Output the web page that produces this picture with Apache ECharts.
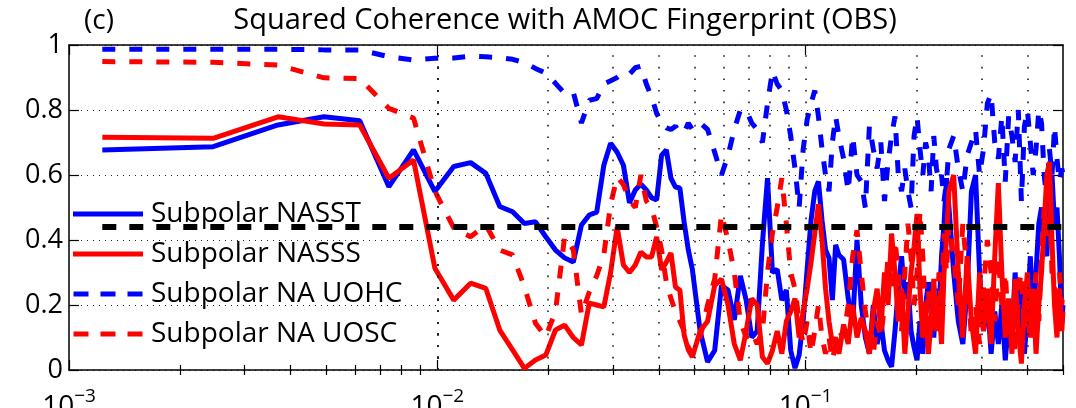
<!DOCTYPE html>
<html>
<head>
<meta charset="utf-8">
<script src="https://cdn.jsdelivr.net/npm/echarts@6/dist/echarts.min.js"></script>
<style>
html,body{margin:0;padding:0;background:#fff;}
#chart{width:1076px;height:408px;}
</style>
</head>
<body>
<div id="chart"></div>
<script>
// Harmonic indices of the spectral estimates (frequency = k * baseFreq, cycles per year)
const baseFreq = 0.5 / 406;
const harmonics = [
 1,2,3,4,5,6,7,8,9,10,11,12,13,14,15,16,17,18,19,20,
 21,22,23,24,25,26,27,28,29,30,31,32,33,34,35,36,37,38,39,40,
 42,44,46,48,50,52,54,56,58,60,62,64,66,68,70,72,74,76,78,80,
 82,84,86,88,90,92,94,96,98,100,
 103,106,109,112,115,118,121,124,127,130,133,136,139,142,145,148,151,154,157,160,
 163,166,169,172,175,178,181,184,187,190,193,196,199,
 205,211,217,223,229,235,241,247,253,259,265,271,277,283,289,295,301,307,313,319,
 325,331,337,343,349,355,361,367,373,379,385,391,397,403,406
];

const nasst = [
 0.677,0.687,0.754,0.779,0.767,0.564,0.677,0.549,0.626,0.638,
 0.605,0.503,0.487,0.451,0.456,0.41,0.369,0.345,0.332,0.446,
 0.477,0.486,0.63,0.698,0.67,0.63,0.514,0.554,0.572,0.554,
 0.53,0.523,0.66,0.677,0.59,0.563,0.56,0.455,0.37,0.31,
 0.12,0.025,0.06,0.26,0.246,0.154,0.29,0.215,0.1,0.12,
 0.39,0.59,0.3,0.31,0.215,0.246,0.06,0.006,0.046,0.154,
 0.31,0.46,0.55,0.58,0.46,0.37,0.345,0.215,0.385,0.354,
 0.34,0.22,0.14,0.4,0.2,0.1,0.05,0.2,0.08,0.15,
 0.06,0.03,0.01,0.12,0.25,0.35,0.22,0.27,0.12,0.07,
 0.03,0.15,0.05,0.2,0.27,0.22,0.1,0.25,0.18,0.35,
 0.45,0.59,0.5,
 0.3,0.15,0.08,0.25,0.55,0.6,0.3,0.12,0.22,0.05,
 0.18,0.08,0.2,0.03,0.15,0.1,0.3,0.12,0.25,0.05,
 0.18,0.35,0.15,0.3,0.45,0.5,0.4,0.35,0.55,0.6,
 0.45,0.5,0.35,0.15,0.2
];

const nasss = [
 0.716,0.713,0.779,0.757,0.754,0.59,0.646,0.313,0.215,0.267,
 0.251,0.123,0.062,0.005,0.031,0.046,0.123,0.138,0.1,0.077,
 0.206,0.2,0.194,0.3,0.44,0.323,0.3,0.323,0.363,0.348,
 0.348,0.41,0.308,0.332,0.36,0.255,0.246,0.108,0.062,0.04,
 0.12,0.15,0.26,0.28,0.2,0.08,0.03,0.12,0.22,0.2,
 0.04,0.02,0.06,0.12,0.05,0.15,0.18,0.22,0.1,0.18,
 0.25,0.33,0.42,0.51,0.4,0.25,0.15,0.08,0.1,0.05,
 0.14,0.08,0.2,0.1,0.16,0.12,0.05,0.18,0.25,0.12,
 0.3,0.2,0.42,0.3,0.15,0.25,0.05,0.18,0.3,0.38,
 0.48,0.25,0.1,0.2,0.05,0.15,0.28,0.12,0.2,0.08,
 0.3,0.4,0.55,
 0.6,0.3,0.1,0.35,0.15,0.05,0.3,0.12,0.25,0.08,
 0.35,0.575,0.3,0.1,0.22,0.05,0.28,0.12,0.02,0.2,
 0.3,0.1,0.25,0.05,0.2,0.3,0.45,0.6,0.64,0.4,
 0.2,0.1,0.25,0.12,0.18
];

const uohc = [
 0.987,0.987,0.987,0.985,0.985,0.964,0.954,0.959,0.96,0.966,
 0.964,0.961,0.956,0.946,0.928,0.913,0.882,0.851,0.855,0.76,
 0.83,0.835,0.88,0.89,0.9,0.915,0.91,0.93,0.935,0.88,
 0.84,0.79,0.76,0.745,0.74,0.75,0.73,0.73,0.76,0.74,
 0.76,0.74,0.67,0.6,0.66,0.74,0.8,0.8,0.76,0.74,
 0.7,0.82,0.92,0.88,0.86,0.8,0.72,0.62,0.5,0.68,
 0.77,0.82,0.86,0.78,0.68,0.6,0.55,0.7,0.78,0.72,
 0.65,0.55,0.72,0.6,0.58,0.5,0.75,0.68,0.62,0.7,
 0.52,0.64,0.72,0.78,0.6,0.55,0.62,0.55,0.5,0.72,
 0.78,0.68,0.6,0.7,0.66,0.55,0.72,0.62,0.58,0.6,
 0.52,0.58,0.68,
 0.72,0.62,0.55,0.66,0.7,0.74,0.6,0.68,0.82,0.85,
 0.7,0.65,0.78,0.58,0.78,0.72,0.64,0.8,0.52,0.75,
 0.8,0.7,0.6,0.68,0.8,0.76,0.6,0.52,0.68,0.6,
 0.75,0.65,0.58,0.62,0.6
];

const uosc = [
 0.949,0.947,0.938,0.899,0.897,0.805,0.775,0.55,0.437,0.41,
 0.446,0.369,0.354,0.256,0.144,0.102,0.18,0.41,0.37,0.17,
 0.24,0.29,0.354,0.51,0.594,0.57,0.523,0.5,0.6,0.52,
 0.5,0.44,0.37,0.27,0.22,0.18,0.15,0.12,0.07,0.05,
 0.1,0.2,0.28,0.48,0.4,0.3,0.15,0.1,0.12,0.08,
 0.12,0.3,0.42,0.5,0.59,0.45,0.3,0.25,0.15,0.08,
 0.15,0.05,0.12,0.2,0.1,0.05,0.1,0.03,0.08,0.12,
 0.1,0.2,0.35,0.43,0.3,0.18,0.1,0.05,0.15,0.1,
 0.2,0.35,0.25,0.4,0.3,0.12,0.3,0.45,0.35,0.2,
 0.3,0.49,0.35,0.15,0.25,0.1,0.2,0.15,0.3,0.2,
 0.42,0.3,0.45,
 0.35,0.2,0.45,0.3,0.1,0.2,0.08,0.25,0.4,0.3,
 0.15,0.35,0.2,0.3,0.12,0.2,0.05,0.25,0.3,0.12,
 0.22,0.08,0.18,0.3,0.15,0.35,0.5,0.4,0.55,0.3,
 0.25,0.15,0.3,0.2,0.25
];

const sigLevel = 0.44;
const seriesNames = ['Subpolar NASST','Subpolar NASSS','Subpolar NA UOHC','Subpolar NA UOSC'];
const xMajorTicks = [0.001, 0.01, 0.1];
const xMinorTicks = [0.002,0.003,0.004,0.005,0.006,0.007,0.008,0.009,
                     0.02,0.03,0.04,0.05,0.06,0.07,0.08,0.09,
                     0.2,0.3,0.4,0.5];
const xGridLines = [0.002,0.003,0.004,0.005,0.006,0.007,0.008,0.009,0.01,
                    0.02,0.03,0.04,0.05,0.06,0.07,0.08,0.09,0.1,
                    0.2,0.3,0.4];
const titleText = 'Squared Coherence with AMOC Fingerprint (OBS)';
const panelLabel = '(c)';

const FONT = '"Open Sans", "Noto Sans", sans-serif';
const toPairs = vals => harmonics.map((k, i) => [k * baseFreq, vals[i]]);

const SOLID_ICON = 'path://M0,0h70v5h-70z';
const DASH_ICON = 'path://M0,0h15v5h-15z M27,0h15v5h-15z M54,0h15v5h-15z';

const chart = echarts.init(document.getElementById('chart'), null, {renderer: 'canvas'});

const xRange = {min: 0.001, max: 0.5};
function supLabel(v) {
  const e = Math.round(Math.log10(v));
  if (Math.abs(v - Math.pow(10, e)) / Math.pow(10, e) > 1e-6) return '';
  return '{a|10}{s|\u2212' + Math.abs(e) + '}';
}

const axisLineStyle = {color: '#000', width: 1.5};

const option = {
  animation: false,
  backgroundColor: '#fff',
  grid: {left: 69, right: 13, top: 45, bottom: 38, containLabel: false, outerBoundsMode: 'none'},
  graphic: [
    {type: 'text', x: 99, y: 21, style: {text: panelLabel, font: '28px ' + FONT, fill: '#000', textAlign: 'center', textVerticalAlign: 'middle'}},
    {type: 'text', x: 565, y: 21, style: {text: titleText, font: '29px ' + FONT, fill: '#000', textAlign: 'center', textVerticalAlign: 'middle'}}
  ],
  legend: {
    data: [
      {name: seriesNames[0], icon: SOLID_ICON},
      {name: seriesNames[1], icon: SOLID_ICON},
      {name: seriesNames[2], icon: DASH_ICON},
      {name: seriesNames[3], icon: DASH_ICON}
    ],
    orient: 'vertical',
    left: 73, top: 200,
    padding: 0,
    itemWidth: 70, itemHeight: 5, itemGap: 12,
    selectedMode: false,
    textStyle: {fontSize: 28, lineHeight: 28, fontFamily: FONT, color: '#000', padding: [0,0,0,3]}
  },
  xAxis: [
    {type: 'log', logBase: 10, position: 'bottom', ...xRange,
     axisLine: {show: true, onZero: false, lineStyle: axisLineStyle},
     axisTick: {show: true, inside: true, length: 10, customValues: xMajorTicks, lineStyle: {color: '#000', width: 1.2}},
     axisLabel: {show: true, customValues: xMajorTicks, margin: 17, formatter: supLabel, color: '#000',
       rich: {a: {fontSize: 28, lineHeight: 34, fontFamily: FONT, color: '#000', verticalAlign: 'bottom'},
              s: {fontSize: 19, lineHeight: 19, fontFamily: FONT, color: '#000', verticalAlign: 'top'}}},
     splitLine: {show: false}},
    {type: 'log', logBase: 10, position: 'bottom', ...xRange,
     axisLine: {show: false}, axisLabel: {show: false}, splitLine: {show: false},
     axisTick: {show: true, inside: true, length: 5, customValues: xMinorTicks, lineStyle: {color: '#000', width: 1.2}}},
    {type: 'log', logBase: 10, position: 'top', ...xRange,
     axisLine: {show: true, onZero: false, lineStyle: axisLineStyle}, axisLabel: {show: false}, splitLine: {show: false},
     axisTick: {show: true, inside: true, length: 10, customValues: xMajorTicks, lineStyle: {color: '#000', width: 1.2}}},
    {type: 'log', logBase: 10, position: 'top', ...xRange,
     axisLine: {show: false}, axisLabel: {show: false}, splitLine: {show: false},
     axisTick: {show: true, inside: true, length: 5, customValues: xMinorTicks, lineStyle: {color: '#000', width: 1.2}}}
  ],
  yAxis: [
    {type: 'value', position: 'left', min: 0, max: 1, interval: 0.2,
     axisLine: {show: true, onZero: false, lineStyle: axisLineStyle},
     axisTick: {show: true, inside: true, length: 10, lineStyle: {color: '#000', width: 1.2}},
     axisLabel: {show: true, margin: 6, fontSize: 27, fontFamily: FONT, color: '#000'},
     splitLine: {show: true, lineStyle: {color: '#222', width: 1, type: [1, 5]}}},
    {type: 'value', position: 'right', min: 0, max: 1, interval: 0.2,
     axisLine: {show: true, onZero: false, lineStyle: axisLineStyle},
     axisTick: {show: true, inside: true, length: 10, lineStyle: {color: '#000', width: 1.2}},
     axisLabel: {show: false}, splitLine: {show: false}}
  ],
  series: [
    {name: '_grid', type: 'line', data: [], z: 1, silent: true,
     markLine: {silent: true, symbol: ['none','none'], label: {show: false}, animation: false,
       lineStyle: {color: '#222', width: 1.6, type: [1.6, 10]},
       data: xGridLines.map(v => ({xAxis: v}))}},
    {name: seriesNames[0], type: 'line', data: toPairs(nasst), symbol: 'none', showSymbol: false,
     lineStyle: {color: '#0000ff', width: 5}, itemStyle: {color: '#0000ff'}, z: 3},
    {name: seriesNames[2], type: 'line', data: toPairs(uohc), symbol: 'none', showSymbol: false,
     lineStyle: {color: '#0000ff', width: 5, type: [13, 14]}, itemStyle: {color: '#0000ff'}, z: 3},
    {name: seriesNames[1], type: 'line', data: toPairs(nasss), symbol: 'none', showSymbol: false,
     lineStyle: {color: '#ff0000', width: 5}, itemStyle: {color: '#ff0000'}, z: 3},
    {name: seriesNames[3], type: 'line', data: toPairs(uosc), symbol: 'none', showSymbol: false,
     lineStyle: {color: '#ff0000', width: 5, type: [13, 14]}, itemStyle: {color: '#ff0000'}, z: 3},
    {name: 'Significance', type: 'line', data: [[baseFreq, sigLevel], [0.5, sigLevel]], symbol: 'none', showSymbol: false,
     lineStyle: {color: '#000', width: 6, type: [14, 13]}, itemStyle: {color: '#000'}, z: 4}
  ]
};
chart.setOption(option);
</script>
</body>
</html>
